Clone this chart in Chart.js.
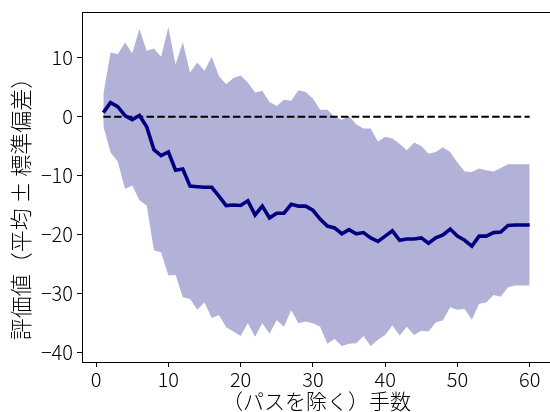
<!DOCTYPE html>
<html>
<head>
<meta charset="utf-8">
<script src="https://cdn.jsdelivr.net/npm/chart.js@4/dist/chart.umd.min.js"></script>
<style>
  html, body { margin: 0; padding: 0; background: #fff; overflow: hidden; }
  #wrap { width: 553px; height: 412px; }
</style>
</head>
<body>
<div id="wrap"><canvas id="chart"></canvas></div>
<script>
// Move number (excluding passes)
const steps = [1, 2, 3, 4, 5, 6, 7, 8, 9, 10, 11, 12, 13, 14, 15, 16, 17, 18, 19, 20,
    21, 22, 23, 24, 25, 26, 27, 28, 29, 30, 31, 32, 33, 34, 35, 36, 37, 38, 39, 40,
    41, 42, 43, 44, 45, 46, 47, 48, 49, 50, 51, 52, 53, 54, 55, 56, 57, 58, 59, 60];

// Mean evaluation
const meanValues = [0.7, 2.4, 1.7, 0.2, -0.5, 0.2, -1.7, -5.6, -6.6, -6.0,
    -9.1, -8.9, -11.8, -11.9, -12.0, -12.0, -13.5, -15.1, -15.0, -15.1,
    -14.3, -16.7, -15.2, -17.2, -16.4, -16.4, -14.9, -15.2, -15.2, -15.9,
    -17.4, -18.6, -18.9, -19.9, -19.2, -19.9, -19.7, -20.6, -21.2, -20.3,
    -19.4, -21.0, -20.8, -20.8, -20.6, -21.5, -20.6, -20.1, -19.1, -20.3,
    -21.0, -22.0, -20.3, -20.3, -19.7, -19.6, -18.5, -18.4, -18.4, -18.4];

// Mean + std
const upperValues = [3.8, 10.9, 10.6, 12.6, 10.8, 14.9, 11.2, 11.6, 10.2, 15.2,
    8.9, 12.7, 7.5, 9.2, 7.8, 10.2, 6.9, 5.5, 6.6, 7.0,
    5.8, 4.1, 4.4, 2.5, 1.8, 2.9, 2.7, 4.5, 4.2, 3.1,
    1.2, 1.2, 0.0, -0.5, 0.1, -1.3, -2.0, -2.0, -4.2, -3.4,
    -3.7, -4.6, -5.7, -4.4, -5.0, -6.3, -6.0, -5.2, -6.0, -7.8,
    -9.3, -9.4, -8.8, -9.1, -9.3, -8.7, -8.1, -8.1, -8.1, -8.1];

// Mean - std
const lowerValues = [-1.6, -6.1, -7.6, -12.3, -11.7, -14.2, -15.1, -22.7, -23.1, -27.0,
    -26.9, -30.7, -31.0, -32.8, -31.6, -34.2, -33.7, -35.8, -36.5, -37.3,
    -35.1, -37.4, -35.1, -36.9, -34.6, -35.7, -32.9, -35.1, -34.8, -35.1,
    -35.7, -38.6, -37.8, -39.0, -38.6, -38.5, -37.3, -39.0, -37.9, -37.1,
    -35.5, -37.2, -35.7, -37.1, -36.4, -36.5, -35.0, -34.6, -32.4, -32.8,
    -32.7, -34.5, -31.8, -31.6, -30.3, -30.6, -29.0, -28.7, -28.7, -28.7];

const zeroLine = [0, 0];
const zeroLineX = [1, 60];

const xTicks = [0, 10, 20, 30, 40, 50, 60];
const yTicks = [-40, -30, -20, -10, 0, 10];

const toPoints = (xs, ys) => xs.map((x, i) => ({ x: x, y: ys[i] }));

const FONT = "'Noto Sans CJK JP', 'Noto Sans', sans-serif";

// top / right frame like matplotlib spines
const framePlugin = {
    id: 'frame',
    afterDraw(chart) {
        const { ctx, chartArea: a } = chart;
        ctx.save();
        ctx.strokeStyle = '#000';
        ctx.lineWidth = 1;
        ctx.beginPath();
        ctx.moveTo(a.left, a.top + 0.5);
        ctx.lineTo(a.right, a.top + 0.5);
        ctx.lineTo(a.right, a.bottom);
        ctx.stroke();
        ctx.restore();
    }
};

new Chart(document.getElementById('chart'), {
    type: 'line',
    data: {
        datasets: [
            {
                label: 'mean',
                data: toPoints(steps, meanValues),
                borderColor: '#000080',
                borderWidth: 3.6,
                pointRadius: 0,
                tension: 0,
                fill: false,
                order: 0
            },
            {
                label: 'zero',
                data: toPoints(zeroLineX, zeroLine),
                borderColor: '#000',
                borderWidth: 2,
                borderDash: [7.5, 3.3],
                pointRadius: 0,
                fill: false,
                order: 1
            },
            {
                label: 'upper',
                data: toPoints(steps, upperValues),
                borderWidth: 0,
                borderColor: 'rgba(0,0,0,0)',
                backgroundColor: 'rgba(0,0,128,0.3)',
                pointRadius: 0,
                tension: 0,
                fill: '+1',
                order: 2
            },
            {
                label: 'lower',
                data: toPoints(steps, lowerValues),
                borderWidth: 0,
                borderColor: 'rgba(0,0,0,0)',
                pointRadius: 0,
                tension: 0,
                fill: false,
                order: 3
            }
        ]
    },
    options: {
        responsive: true,
        maintainAspectRatio: false,
        animation: false,
        layout: { padding: { top: 12, left: 0, right: 2, bottom: 0 } },
        plugins: {
            legend: { display: false },
            tooltip: { enabled: false }
        },
        scales: {
            x: {
                type: 'linear',
                min: -1.95,
                max: 62.95,
                afterFit: scale => { scale.height = 50; },
                afterBuildTicks: scale => { scale.ticks = xTicks.map(v => ({ value: v })); },
                grid: { drawOnChartArea: false, tickLength: 5, tickColor: '#000', tickWidth: 1 },
                border: { color: '#000', width: 1 },
                ticks: {
                    color: '#000',
                    font: { family: FONT, size: 20, weight: 300 },
                    padding: 0,
                    maxRotation: 0
                },
                title: {
                    display: true,
                    text: '（パスを除く）手数',
                    color: '#000',
                    font: { family: FONT, size: 21, weight: 300 },
                    padding: { top: 0, bottom: -1.6 }
                }
            },
            y: {
                min: -41.7,
                max: 17.8,
                afterFit: scale => {
                    scale.width = 82;
                    scale.paddingTop = 0;
                    scale.paddingBottom = 0;
                },
                afterBuildTicks: scale => { scale.ticks = yTicks.map(v => ({ value: v })); },
                grid: { drawOnChartArea: false, tickLength: 5, tickColor: '#000', tickWidth: 1 },
                border: { color: '#000', width: 1 },
                ticks: {
                    color: '#000',
                    font: { family: FONT, size: 20, weight: 300 },
                    padding: 4,
                    callback: v => String(v).replace('-', '\u2212')
                },
                title: {
                    display: true,
                    text: '評価値（平均 ± 標準偏差）　　',
                    color: '#000',
                    font: { family: FONT, size: 22, weight: 300 },
                    padding: { top: 7, bottom: 0 }
                }
            }
        }
    },
    plugins: [framePlugin]
});
</script>
</body>
</html>
